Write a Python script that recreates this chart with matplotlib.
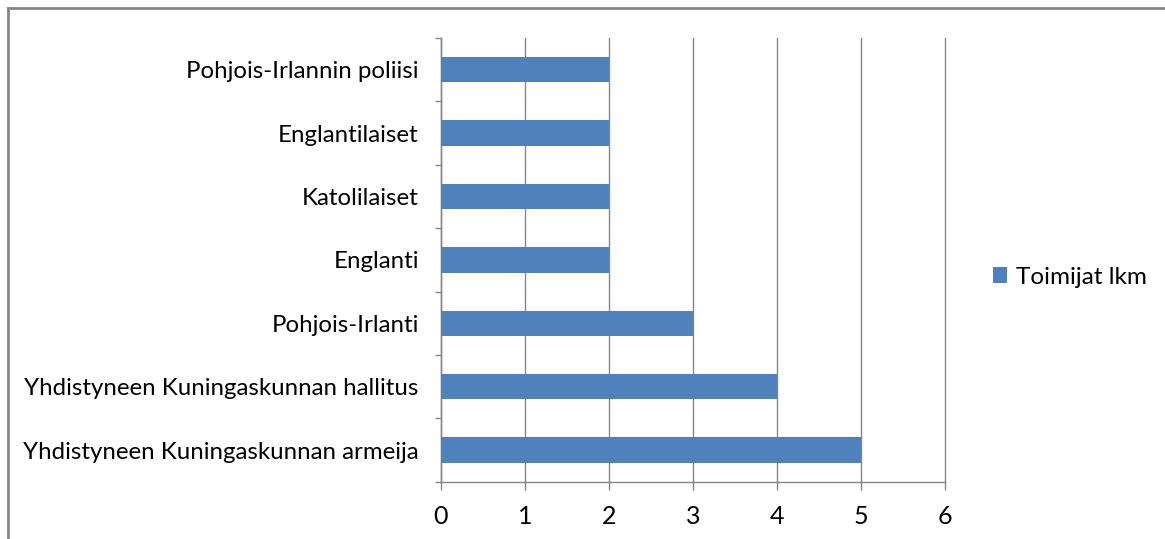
import matplotlib
matplotlib.use("Agg")
import matplotlib.pyplot as plt
from matplotlib.lines import Line2D
import numpy as np

categories = [
    "Yhdistyneen Kuningaskunnan armeija",
    "Yhdistyneen Kuningaskunnan hallitus",
    "Pohjois-Irlanti",
    "Englanti",
    "Katolilaiset",
    "Englantilaiset",
    "Pohjois-Irlannin poliisi",
]
values = [5, 4, 3, 2, 2, 2, 2]
series_name = "Toimijat lkm"
x_ticks = [0, 1, 2, 3, 4, 5, 6]

plt.rcParams['font.family'] = ['Lato', 'DejaVu Sans']

W, H = 1165, 539
fig = plt.figure(figsize=(W / 100, H / 100), dpi=100)
ax = fig.add_axes([441 / W, 1 - 481.7 / H, (945 - 441) / W, (481.7 - 38) / H])

grey = "#868686"
y = np.arange(len(categories))
ax.barh(y, values, height=0.4, color="#4F81BD", label=series_name, zorder=3)
ax.set_xlim(0, 6)
ax.set_ylim(-0.5, len(categories) - 0.5)
ax.set_xticks(x_ticks)
ax.set_xticklabels([str(t) for t in x_ticks], fontsize=18, color="#000000")
ax.set_yticks(y)
ax.set_yticklabels(categories, fontsize=17.3, color="#000000")
ax.set_yticks(np.arange(-0.5, len(categories), 1), minor=True)
ax.tick_params(axis='y', which='major', length=0, pad=16)
ax.tick_params(axis='y', which='minor', length=6 * 0.72, width=1, color=grey, direction='out')
ax.tick_params(axis='x', which='major', length=8 * 0.72, width=1, color=grey, direction='out', pad=11)
ax.grid(axis='x', color=grey, linewidth=1, zorder=0)
for gl in ax.get_xgridlines():
    gl.set_clip_on(False)
for s in ['top', 'right']:
    ax.spines[s].set_visible(False)
for s in ['left', 'bottom']:
    ax.spines[s].set_color(grey)
    ax.spines[s].set_linewidth(1)

fig.legend(loc='center left', bbox_to_anchor=(971 / W, 1 - 277 / H), frameon=False,
           fontsize=17.5, handlelength=0.6, handleheight=0.6, handletextpad=0.35)

fx = 8 / W
fy = 1 - 8 / H
fig.add_artist(Line2D([fx, fx], [0, fy], transform=fig.transFigure, color="#878787", linewidth=2))
fig.add_artist(Line2D([fx, 1], [fy, fy], transform=fig.transFigure, color="#878787", linewidth=2))

fig.savefig("out.png", dpi=100)
